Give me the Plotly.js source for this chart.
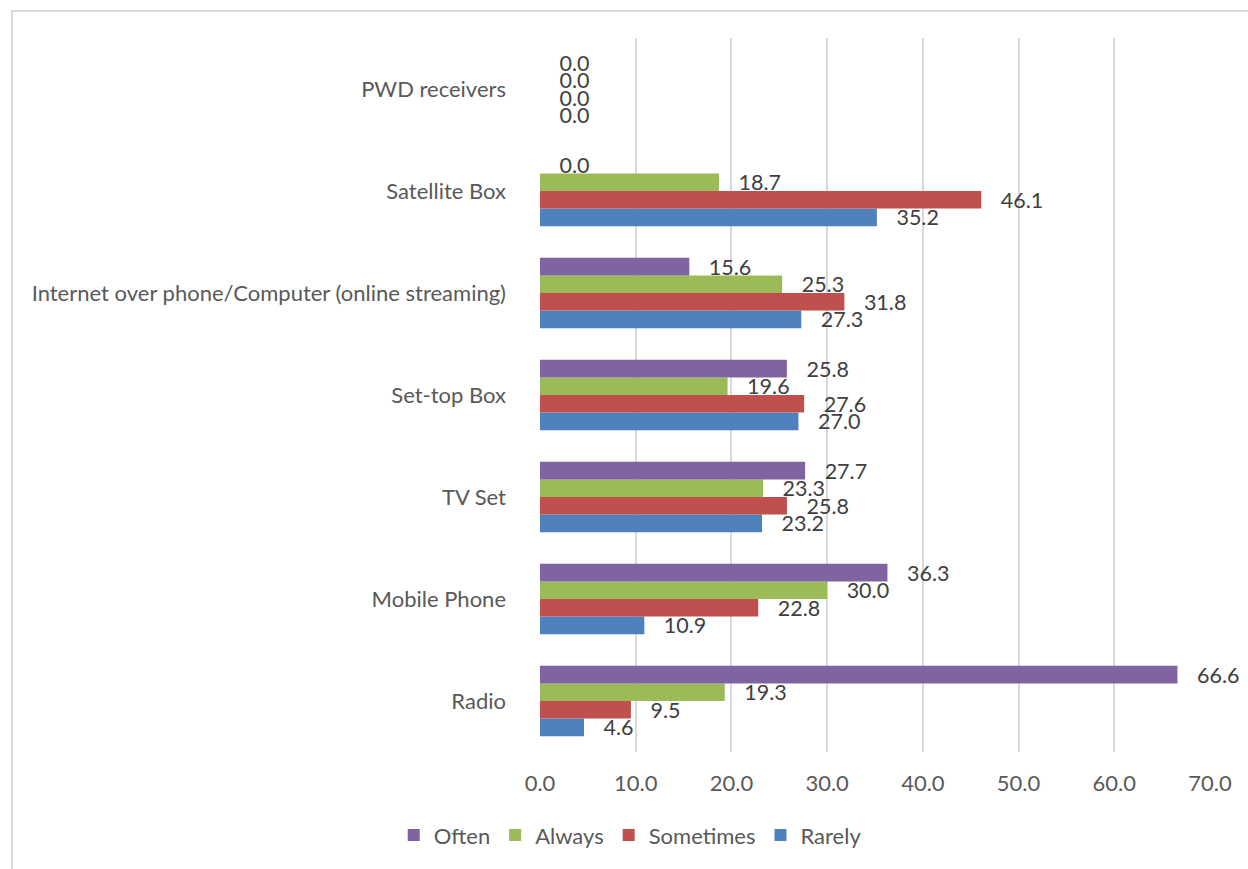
<!DOCTYPE html>
<html>
<head>
<meta charset="utf-8">
<script src="https://cdn.plot.ly/plotly-3.0.1.min.js"></script>
<style>
  html, body { margin: 0; padding: 0; background: #ffffff; }
  #frame { position: absolute; left: 11px; top: 10px; width: 1237px; height: 859px;
           border-top: 2px solid #d9d9d9; border-left: 2px solid #d9d9d9; box-sizing: border-box; }
  #chart { position: absolute; left: 0; top: 0; width: 1248px; height: 869px; }
</style>
</head>
<body>
<div id="frame"></div>
<div id="chart"></div>
<script>
// Categories, listed bottom to top
const categories = [
  "Radio",
  "Mobile Phone",
  "TV Set",
  "Set-top Box",
  "Internet over phone/Computer (online streaming)",
  "Satellite Box",
  "PWD receivers"
];
const rarely    = [4.6, 10.9, 23.2, 27.0, 27.3, 35.2, 0.0];
const sometimes = [9.5, 22.8, 25.8, 27.6, 31.8, 46.1, 0.0];
const always    = [19.3, 30.0, 23.3, 19.6, 25.3, 18.7, 0.0];
const often     = [66.6, 36.3, 27.7, 25.8, 15.6, 0.0, 0.0];
const xTicks    = [0, 10, 20, 30, 40, 50, 60, 70];

const FONT = "Lato, 'Open Sans', sans-serif";
const LABEL_GAP = "\u00a0\u00a0\u00a0";

function series(name, values, color) {
  return {
    type: "bar",
    orientation: "h",
    name: name,
    y: categories,
    x: values,
    marker: { color: color, line: { width: 0 } },
    text: values.map(v => LABEL_GAP + v.toFixed(1)),
    textposition: "outside",
    constraintext: "none",
    cliponaxis: false,
    textfont: { family: FONT, size: 21.5, color: "#404040" },
    hoverinfo: "x+name"
  };
}

const data = [
  series("Rarely", rarely, "#4F81BD"),
  series("Sometimes", sometimes, "#C0504D"),
  series("Always", always, "#9BBB59"),
  series("Often", often, "#8064A2")
];

const layout = {
  width: 1248,
  height: 869,
  paper_bgcolor: "rgba(0,0,0,0)",
  plot_bgcolor: "rgba(0,0,0,0)",
  margin: { l: 540, r: 38, t: 38, b: 117, pad: 0 },
  barmode: "group",
  bargap: 0.31,
  bargroupgap: 0,
  showlegend: true,
  font: { family: FONT, size: 22, color: "#595959" },
  xaxis: {
    range: [0, 70],
    tickvals: xTicks,
    ticktext: xTicks.map(v => v.toFixed(1)),
    showgrid: true,
    gridcolor: "#d9d9d9",
    gridwidth: 2,
    zeroline: false,
    showline: false,
    ticks: "",
    ticklabelstandoff: 16,
    tickfont: { family: FONT, size: 22, color: "#595959" },
    fixedrange: true
  },
  yaxis: {
    type: "category",
    categoryorder: "array",
    categoryarray: categories,
    showgrid: false,
    zeroline: false,
    showline: false,
    ticks: "",
    ticklabelstandoff: 33,
    tickfont: { family: FONT, size: 22, color: "#595959" },
    fixedrange: true
  },
  legend: {
    orientation: "h",
    traceorder: "reversed",
    xref: "container",
    yref: "container",
    x: 0.505,
    xanchor: "center",
    y: 0.039,
    yanchor: "middle",
    font: { family: FONT, size: 22, color: "#595959" },
    itemwidth: 30,
    bgcolor: "rgba(0,0,0,0)"
  }
};

Plotly.newPlot("chart", data, layout, { displayModeBar: false, staticPlot: true });
</script>
</body>
</html>
